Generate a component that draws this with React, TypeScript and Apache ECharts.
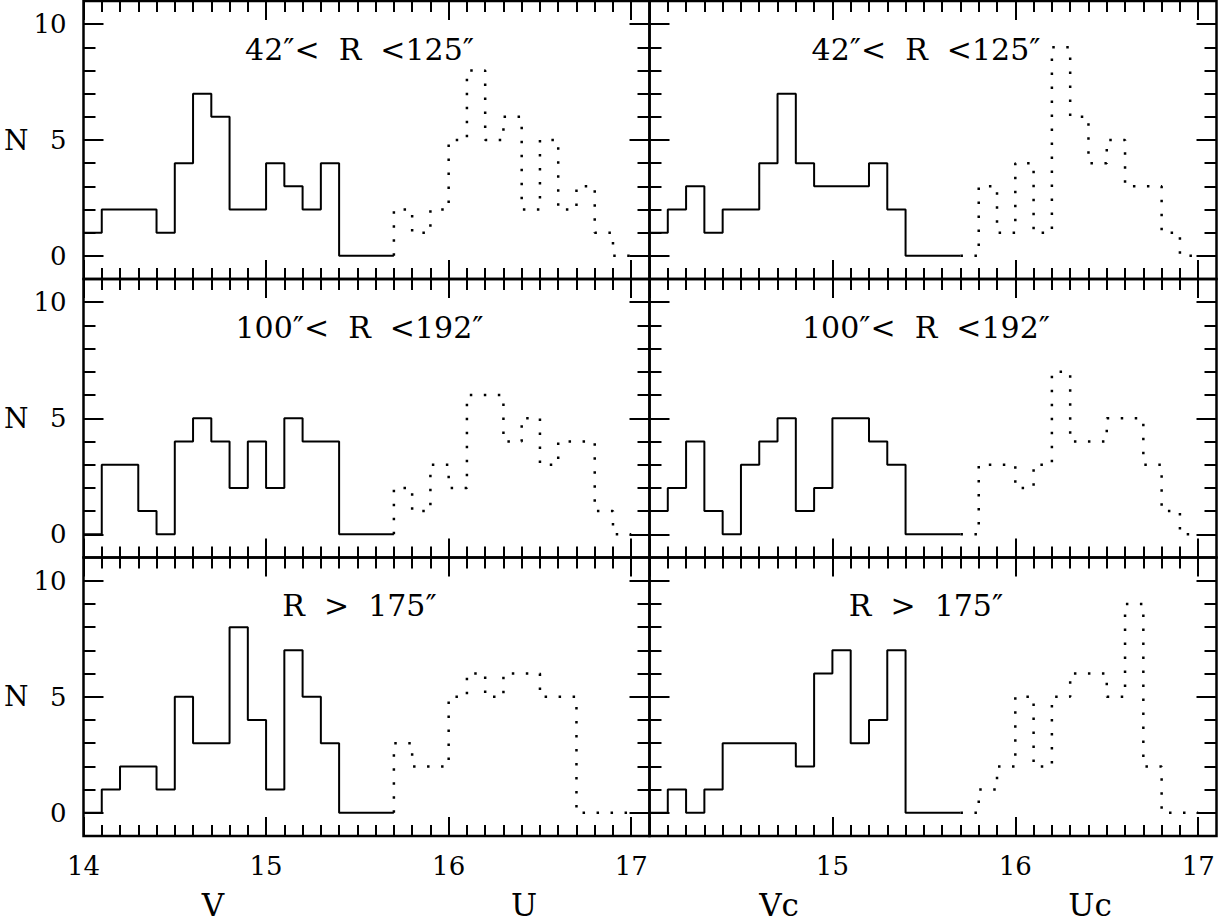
import React, { useEffect, useRef } from "react";
import * as echarts from "echarts";

// ---- axis ranges / ticks ----
const X_MIN = 14;
const X_MAX = 17.1;
const Y_MIN = -1;
const Y_MAX = 11;
const BIN = 0.1;
const V_START = 14.0; // first bin of the solid (V / Vc) histograms
const U_START = 15.7; // first bin of the dotted (U / Uc) histograms

const xMajorTicks = [14, 15, 16, 17];
const xLabelsLeft = [14, 15, 16, 17];
const xLabelsRight = [15, 16, 17];
const xMinorTicks = Array.from({ length: 30 }, (_, i) => Math.round((14 + (i + 1) * 0.1) * 10) / 10);
const yMajorTicks = [0, 5, 10];
const yMinorTicks = [0, 1, 2, 3, 4, 5, 6, 7, 8, 9, 10];

// ---- panel titles ----
const rowTitles = ["42″<  R  <125″", "100″<  R  <192″", "R  >  175″"];
const xNamesLeft = ["V", "U"];
const xNamesRight = ["Vc", "Uc"];

// ---- counts per 0.1 mag bin ----
// top row: 42" < R < 125"
const vTop = [1, 2, 2, 2, 1, 4, 7, 6, 2, 2, 4, 3, 2, 4, 0, 0, 0];
const uTop = [2, 1, 2, 5, 8, 5, 6, 2, 5, 2, 3, 1, 0];
const vcTop = [1, 2, 3, 1, 2, 2, 4, 7, 4, 3, 3, 3, 4, 2, 0, 0, 0];
const ucTop = [0, 3, 1, 4, 1, 9, 6, 4, 5, 3, 3, 1, 0];
// middle row: 100" < R < 192"
const vMid = [0, 3, 3, 1, 0, 4, 5, 4, 2, 4, 2, 5, 4, 4, 0, 0, 0];
const uMid = [2, 1, 3, 2, 6, 6, 4, 5, 3, 4, 4, 1, 0];
const vcMid = [1, 2, 4, 1, 0, 3, 4, 5, 1, 2, 5, 5, 4, 3, 0, 0, 0];
const ucMid = [0, 3, 3, 2, 3, 7, 4, 4, 5, 5, 3, 1, 0];
// bottom row: R > 175"
const vBot = [0, 1, 2, 2, 1, 5, 3, 3, 8, 4, 1, 7, 5, 3, 0, 0, 0];
const uBot = [3, 2, 2, 5, 6, 5, 6, 6, 5, 5, 0, 0, 0];
const vcBot = [0, 1, 0, 1, 3, 3, 3, 3, 2, 6, 7, 3, 4, 7, 0, 0, 0];
const ucBot = [0, 1, 2, 5, 2, 5, 6, 6, 5, 9, 2, 0, 0];

const panels = [
  [[vTop, uTop], [vcTop, ucTop]],
  [[vMid, uMid], [vcMid, ucMid]],
  [[vBot, uBot], [vcBot, ucBot]],
];

// ---- layout (px) ----
const colLeft = [83.5, 649.5];
const colWidth = [566, 567];
const rowTop = [1, 279, 557.5];
const rowHeight = [278, 278.5, 278.5];

const FONT = "DejaVu Serif";

function edge(start: number, i: number) {
  return Math.round(start / BIN + i) * BIN;
}

function steps(start: number, vals: number[], fromZero: boolean) {
  const pts: number[][] = [];
  if (fromZero) pts.push([start, 0]);
  vals.forEach((v, i) => pts.push([+edge(start, i).toFixed(1), v]));
  pts.push([+edge(start, vals.length).toFixed(1), vals[vals.length - 1]]);
  return pts;
}

function buildOption() {
  const grid: any[] = [];
  const xAxis: any[] = [];
  const yAxis: any[] = [];
  const series: any[] = [];
  const graphic: any[] = [];

  for (let r = 0; r < 3; r++) {
    for (let c = 0; c < 2; c++) {
      const g = grid.length;
      grid.push({
        left: colLeft[c],
        top: rowTop[r],
        width: colWidth[c],
        height: rowHeight[r],
        show: true,
        borderColor: "#000",
        borderWidth: 2.5,
        backgroundColor: "transparent",
      });
      const isBottom = r === 2;
      const isLeft = c === 0;
      const tickStyle = { color: "#000", width: 2 };
      const noLine = { show: false, onZero: false };
      const baseX = { type: "value", gridIndex: g, min: X_MIN, max: X_MAX, splitLine: { show: false }, axisLine: noLine };
      const baseY = { type: "value", gridIndex: g, min: Y_MIN, max: Y_MAX, splitLine: { show: false }, axisLine: noLine };
      // x axes: minor bottom, major bottom, minor top, major top
      for (const pos of ["bottom", "top"]) {
        xAxis.push({
          ...baseX,
          position: pos,
          axisTick: { show: true, inside: true, length: 11, lineStyle: tickStyle, customValues: xMinorTicks },
          axisLabel: { show: false },
        });
        const showLab = pos === "bottom" && isBottom;
        xAxis.push({
          ...baseX,
          position: pos,
          axisTick: { show: true, inside: true, length: 19, lineStyle: tickStyle, customValues: xMajorTicks },
          axisLabel: {
            show: showLab,
            customValues: isLeft ? xLabelsLeft : xLabelsRight,
            fontFamily: FONT,
            fontSize: 26,
            color: "#000",
            margin: 17,
          },
        });
      }
      for (const pos of ["left", "right"]) {
        yAxis.push({
          ...baseY,
          position: pos,
          axisTick: { show: true, inside: true, length: 12, lineStyle: tickStyle, customValues: yMinorTicks },
          axisLabel: { show: false },
        });
        const showLab = pos === "left" && isLeft;
        yAxis.push({
          ...baseY,
          position: pos,
          name: showLab ? "N" : "",
          nameLocation: "middle",
          nameRotate: 0,
          nameGap: 50,
          nameTextStyle: { fontFamily: FONT, fontSize: 28, color: "#000" },
          axisTick: { show: true, inside: true, length: 20, lineStyle: tickStyle, customValues: yMajorTicks },
          axisLabel: {
            show: showLab,
            customValues: yMajorTicks,
            fontFamily: FONT,
            fontSize: 26,
            color: "#000",
            margin: 17,
          },
        });
      }
      const [solid, dotted] = panels[r][c];
      series.push({
        type: "line",
        xAxisIndex: g * 4,
        yAxisIndex: g * 4,
        data: steps(V_START, solid, false),
        step: "end",
        symbol: "none",
        silent: true,
        lineStyle: { color: "#000", width: 2 },
      });
      series.push({
        type: "line",
        xAxisIndex: g * 4,
        yAxisIndex: g * 4,
        data: steps(U_START, dotted, true),
        step: "end",
        symbol: "none",
        silent: true,
        lineStyle: { color: "#000", width: 2.5, type: [2.5, 11.5] },
      });
      graphic.push({
        type: "text",
        x: colLeft[c] + colWidth[c] / 2 - 7,
        y: rowTop[r] + 48,
        silent: true,
        style: {
          text: rowTitles[r],
          fontFamily: FONT,
          fontSize: 30,
          fill: "#000",
          align: "center",
          verticalAlign: "middle",
        },
      });
    }
  }

  const nameX = [213, 524, 779, 1090];
  const names = [...xNamesLeft, ...xNamesRight];
  names.forEach((n, i) => {
    graphic.push({
      type: "text",
      x: nameX[i],
      y: 905,
      silent: true,
      style: { text: n, fontFamily: FONT, fontSize: 31, fill: "#000", align: "center", verticalAlign: "middle" },
    });
  });

  return {
    animation: false,
    backgroundColor: "#fff",
    textStyle: { fontFamily: FONT },
    grid,
    xAxis,
    yAxis,
    series,
    graphic,
  };
}

export default function App() {
  const ref = useRef<HTMLDivElement>(null);
  useEffect(() => {
    if (!ref.current) return;
    const chart = echarts.init(ref.current, undefined, { renderer: "svg" });
    chart.setOption(buildOption() as any);
    return () => chart.dispose();
  }, []);
  return (
    <div
      ref={ref}
      style={{ position: "absolute", left: 0, top: 0, width: 1227, height: 924, background: "#fff" }}
    />
  );
}
